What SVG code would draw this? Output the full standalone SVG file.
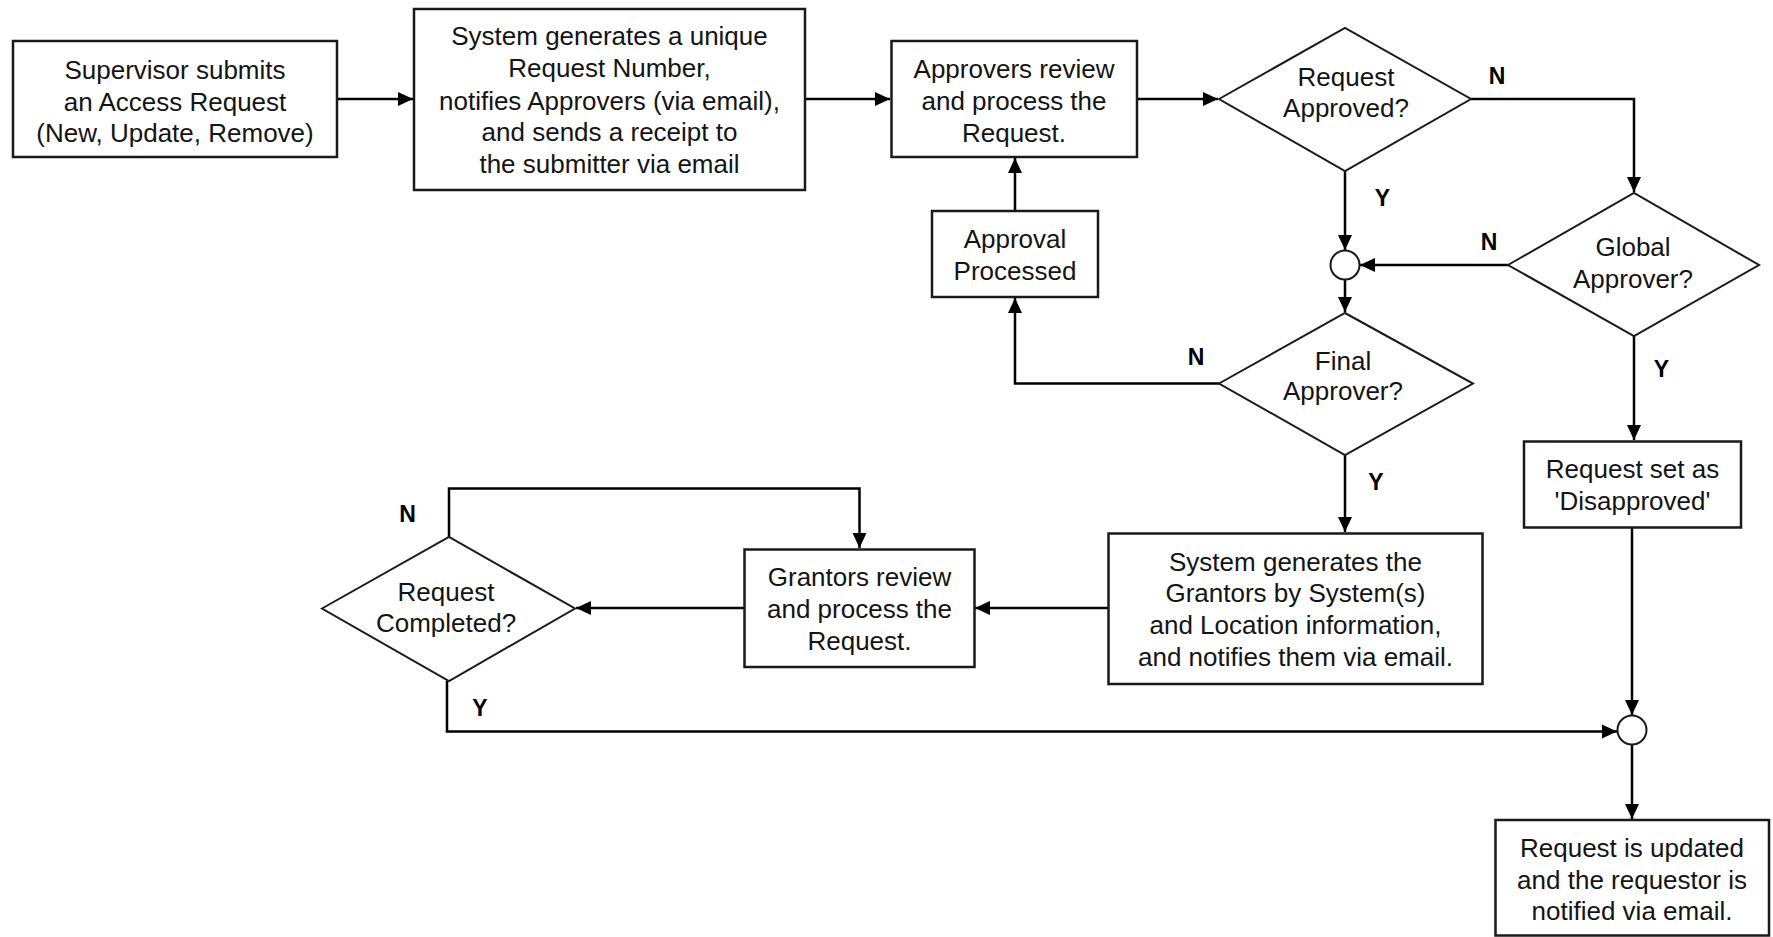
<svg xmlns="http://www.w3.org/2000/svg" width="1773" height="937" viewBox="0 0 1773 937">
<style>
  .box { fill: #ffffff; stroke: #1a1a1a; stroke-width: 2.5; }
  .dia { fill: #ffffff; stroke: #1a1a1a; stroke-width: 2; }
  .join { fill: #ffffff; stroke: #1a1a1a; stroke-width: 2; }
  .t { font-family: "Liberation Sans", Arial, sans-serif; font-size: 26px; fill: #141414; text-anchor: middle; }
  .lbl { font-family: "Liberation Sans", Arial, sans-serif; font-size: 23px; font-weight: bold; fill: #000000; text-anchor: middle; }
  .c { fill: none; stroke: #000000; stroke-width: 2.5; marker-end: url(#ah); }
  .cn { fill: none; stroke: #000000; stroke-width: 2.5; }
</style>
<defs>
  <marker id="ah" markerUnits="userSpaceOnUse" markerWidth="16" markerHeight="16" viewBox="0 0 16 16" refX="15" refY="8" orient="auto">
    <path d="M0,1 L15,8 L0,15 Z" fill="#000000"/>
  </marker>
</defs>
<rect width="1773" height="937" fill="#ffffff"/>

<g id="connectors">
  <line class="c" x1="337" y1="99" x2="413" y2="99"/>
  <line class="c" x1="805" y1="99" x2="890" y2="99"/>
  <line class="c" x1="1137" y1="99" x2="1218" y2="99"/>
  <polyline class="c" points="1471,99 1634,99 1634,192"/>
  <line class="c" x1="1345" y1="171" x2="1345" y2="250"/>
  <line class="c" x1="1508" y1="265" x2="1360" y2="265"/>
  <line class="c" x1="1345" y1="280" x2="1345" y2="312"/>
  <polyline class="c" points="1219,383.5 1015,383.5 1015,298"/>
  <line class="c" x1="1015" y1="211" x2="1015" y2="158"/>
  <line class="c" x1="1634" y1="336" x2="1634" y2="440"/>
  <line class="c" x1="1345" y1="455" x2="1345" y2="532"/>
  <line class="c" x1="1108" y1="608" x2="975" y2="608"/>
  <line class="c" x1="744" y1="608" x2="576" y2="608"/>
  <polyline class="c" points="449,537 449,488.5 859.5,488.5 859.5,548"/>
  <polyline class="c" points="447,681 447,731.5 1617,731.5"/>
  <line class="c" x1="1632" y1="528" x2="1632" y2="715"/>
  <line class="c" x1="1632" y1="745" x2="1632" y2="819"/>
</g>

<g id="n1">
  <rect class="box" x="13" y="41" width="324" height="116"/>
  <text class="t" x="175" y="79">Supervisor submits</text>
  <text class="t" x="175" y="110.5">an Access Request</text>
  <text class="t" x="175" y="142">(New, Update, Remove)</text>
</g>

<g id="n2">
  <rect class="box" x="414" y="9" width="391" height="181"/>
  <text class="t" x="609.5" y="45">System generates a unique</text>
  <text class="t" x="609.5" y="77">Request Number,</text>
  <text class="t" x="609.5" y="109.5">notifies Approvers (via email),</text>
  <text class="t" x="609.5" y="141">and sends a receipt to</text>
  <text class="t" x="609.5" y="173">the submitter via email</text>
</g>

<g id="n3">
  <rect class="box" x="891.5" y="41" width="245.5" height="116"/>
  <text class="t" x="1014" y="78">Approvers review</text>
  <text class="t" x="1014" y="110">and process the</text>
  <text class="t" x="1014" y="141.5">Request.</text>
</g>

<g id="n4">
  <polygon class="dia" points="1219,99 1345,28 1471,99 1345,171"/>
  <text class="t" x="1346" y="86">Request</text>
  <text class="t" x="1346" y="117">Approved?</text>
</g>

<g id="n5">
  <rect class="box" x="932" y="211" width="166" height="86"/>
  <text class="t" x="1015" y="248">Approval</text>
  <text class="t" x="1015" y="280">Processed</text>
</g>

<g id="n6">
  <circle class="join" cx="1345" cy="265" r="14.5"/>
</g>

<g id="n7">
  <polygon class="dia" points="1508,265 1634,193 1759,265 1634,336"/>
  <text class="t" x="1633" y="256">Global</text>
  <text class="t" x="1633" y="287.5">Approver?</text>
</g>

<g id="n8">
  <polygon class="dia" points="1219,383.5 1345,313 1473,383.5 1345,455"/>
  <text class="t" x="1343" y="370">Final</text>
  <text class="t" x="1343" y="400">Approver?</text>
</g>

<g id="n9">
  <rect class="box" x="1524" y="441.5" width="217" height="86"/>
  <text class="t" x="1632.5" y="478">Request set as</text>
  <text class="t" x="1632.5" y="510">'Disapproved'</text>
</g>

<g id="n10">
  <rect class="box" x="1108.5" y="533.5" width="374" height="150.5"/>
  <text class="t" x="1295.5" y="571">System generates the</text>
  <text class="t" x="1295.5" y="602">Grantors by System(s)</text>
  <text class="t" x="1295.5" y="634">and Location information,</text>
  <text class="t" x="1295.5" y="665.5">and notifies them via email.</text>
</g>

<g id="n11">
  <rect class="box" x="744.5" y="549.5" width="230" height="117.5"/>
  <text class="t" x="859.5" y="586">Grantors review</text>
  <text class="t" x="859.5" y="617.5">and process the</text>
  <text class="t" x="859.5" y="650">Request.</text>
</g>

<g id="n12">
  <polygon class="dia" points="322,608.5 449,537 575,608.5 449,681"/>
  <text class="t" x="446" y="601">Request</text>
  <text class="t" x="446" y="632">Completed?</text>
</g>

<g id="n13">
  <circle class="join" cx="1632" cy="730" r="14.5"/>
</g>

<g id="n14">
  <rect class="box" x="1495.5" y="820" width="273.5" height="115.5"/>
  <text class="t" x="1632" y="857">Request is updated</text>
  <text class="t" x="1632" y="888.5">and the requestor is</text>
  <text class="t" x="1632" y="919.5">notified via email.</text>
</g>

<g id="labels">
  <text class="lbl" x="1497" y="84">N</text>
  <text class="lbl" x="1382.5" y="206">Y</text>
  <text class="lbl" x="1489" y="250">N</text>
  <text class="lbl" x="1196" y="365">N</text>
  <text class="lbl" x="1661.5" y="377">Y</text>
  <text class="lbl" x="1376" y="490">Y</text>
  <text class="lbl" x="407.5" y="522">N</text>
  <text class="lbl" x="480" y="716">Y</text>
</g>
</svg>
